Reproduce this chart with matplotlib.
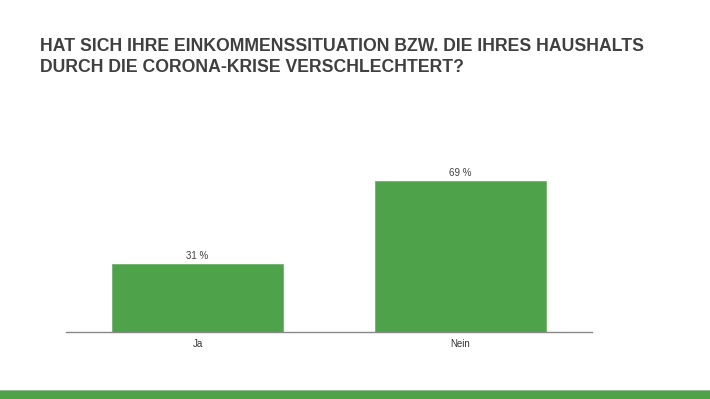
import matplotlib
matplotlib.use("Agg")
import matplotlib.pyplot as plt
from matplotlib.patches import Rectangle

categories = ["Ja", "Nein"]
values = [31, 69]
value_labels = ["31 %", "69 %"]
title_lines = ["HAT SICH IHRE EINKOMMENSSITUATION BZW. DIE IHRES HAUSHALTS",
               "DURCH DIE CORONA-KRISE VERSCHLECHTERT?"]

GREEN = "#4ea24a"
plt.rcParams['font.family'] = ['Liberation Sans', 'DejaVu Sans']

fig = plt.figure(figsize=(7.1, 3.99), dpi=100)
ax = fig.add_axes([66/710, 67/399, 526/710, 175/399])
x = list(range(len(categories)))
ax.bar(x, values, width=0.65, color=GREEN, edgecolor="#6fb46b", linewidth=0.6)
for xi, v, lab in zip(x, values, value_labels):
    ax.text(xi, v + 1.6, lab, ha="center", va="bottom", fontsize=7, color="#404040")
ax.set_xlim(-0.5, 1.5)
ax.set_ylim(0, 80)
ax.set_xticks(x)
ax.set_xticklabels(categories, fontsize=7, color="#333333")
ax.tick_params(axis="x", length=0, pad=5)
ax.set_yticks([])
for s in ["top", "right", "left"]:
    ax.spines[s].set_visible(False)
ax.spines["bottom"].set_color("#888888")
ax.spines["bottom"].set_linewidth(1.0)

fig.text(40/710, 1 - 51/399, title_lines[0], fontsize=12.7, fontweight="bold",
         color="#404040", ha="left", va="baseline")
fig.text(40/710, 1 - 72/399, title_lines[1], fontsize=12.7, fontweight="bold",
         color="#404040", ha="left", va="baseline")

fig.patches.append(Rectangle((0, 0), 1, 8/399, transform=fig.transFigure,
                             facecolor=GREEN, edgecolor="none"))
fig.patches.append(Rectangle((0, 8/399), 1, 1/399, transform=fig.transFigure,
                             facecolor="#8fbf8c", edgecolor="none"))

fig.savefig("out.png", dpi=100)
